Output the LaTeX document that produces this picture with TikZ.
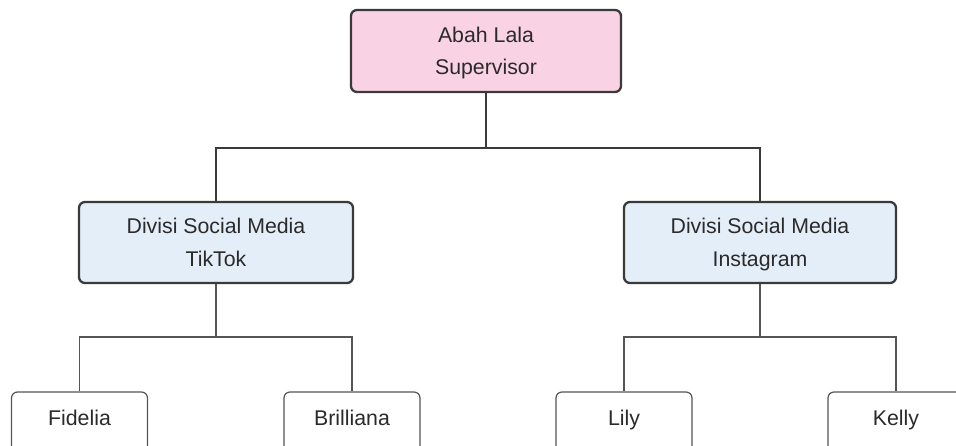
\documentclass[tikz,border=0pt]{standalone}
\usepackage{fontspec}
\setmainfont{Liberation Sans}
\definecolor{pinkfill}{HTML}{F9D3E3}
\definecolor{bluefill}{HTML}{E4EEF9}
\definecolor{edgedark}{HTML}{3A3A3A}
\definecolor{edgegray}{HTML}{555555}
\definecolor{txt}{HTML}{2A2A2A}
\tikzset{
  mainbox/.style={draw=edgedark, line width=2.3pt, rounded corners=6pt, inner sep=0pt,
    align=center, text depth=0pt, execute at begin node={\rule{0pt}{23pt}},
    text=txt, font=\fontsize{21.3}{32.5}\selectfont},
  leafbox/.style={draw=edgegray, line width=1.2pt, rounded corners=6pt, inner sep=0pt,
    minimum width=136pt, minimum height=61pt, text height=15pt, text depth=10pt,
    text=txt, font=\fontsize{21.3}{32.5}\selectfont, fill=white},
  conthick/.style={draw=edgedark, line width=2pt},
  conthin/.style={draw=edgegray, line width=1.2pt},
}
\begin{document}
\begin{tikzpicture}[x=1pt,y=-1pt]
\useasboundingbox (0,0) rectangle (956,445);
\clip (0,0) rectangle (956,445);
\node[mainbox, fill=pinkfill, minimum width=270pt, minimum height=82pt] (sup) at (486,51) {Abah Lala\\Supervisor};
\node[mainbox, fill=bluefill, minimum width=274pt, minimum height=81pt] (tik) at (216,242.5) {Divisi Social Media\\TikTok};
\node[mainbox, fill=bluefill, minimum width=272pt, minimum height=81pt] (ig) at (760,242.5) {Divisi Social Media\\Instagram};
\node[leafbox] (fid) at (79.5,422.5) {Fidelia};
\node[leafbox] (bri) at (352,422.5) {Brilliana};
\node[leafbox] (lil) at (624,422.5) {Lily};
\node[leafbox] (kel) at (896,422.5) {Kelly};
\coordinate (j1) at (486,148);
\coordinate (j2) at (216,337);
\coordinate (j3) at (760,337);
\draw[conthick] (sup.south) -- (j1);
\draw[conthick] (j1) -| (tik.north);
\draw[conthick] (j1) -| (ig.north);
\draw[conthin] (tik.south) -- (j2);
\draw[conthin] (j2) -| (fid.north);
\draw[conthin] (j2) -| (bri.north);
\draw[conthin] (ig.south) -- (j3);
\draw[conthin] (j3) -| (lil.north);
\draw[conthin] (j3) -| (kel.north);
\end{tikzpicture}
\end{document}
